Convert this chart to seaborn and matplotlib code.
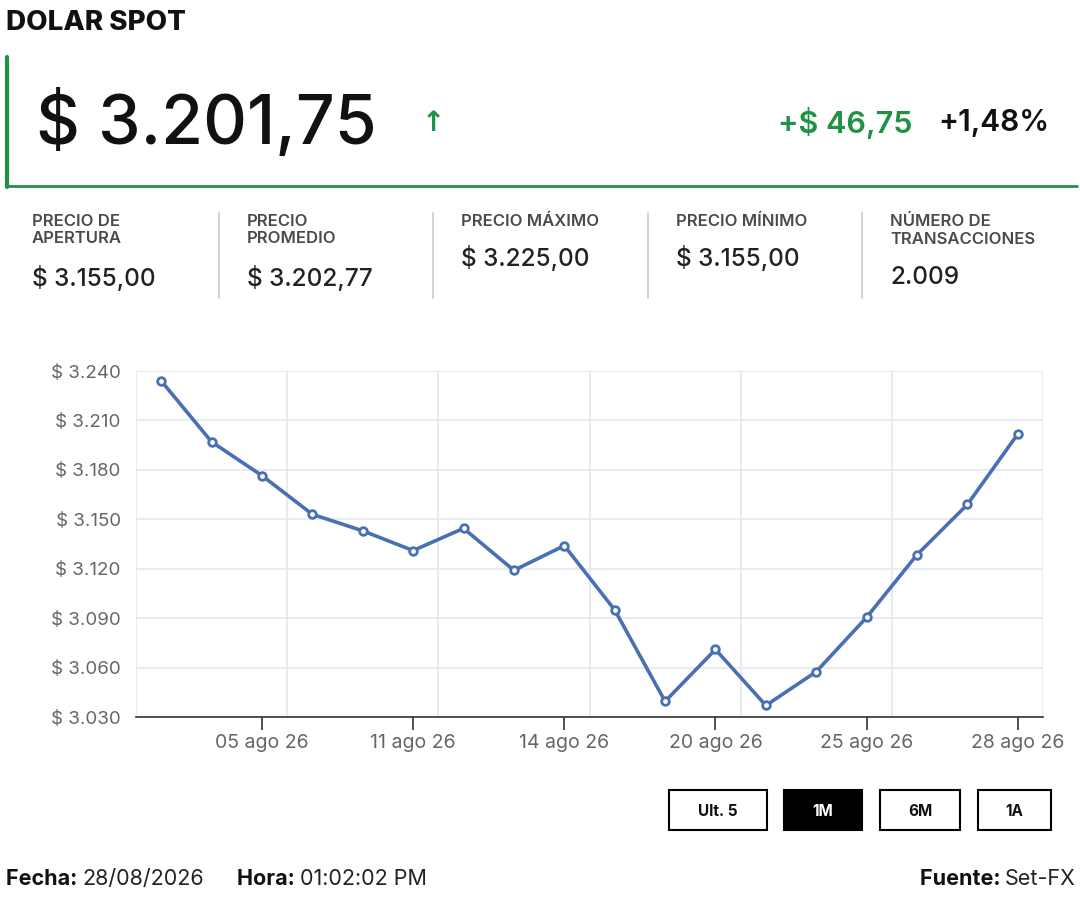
import pandas as pd
import seaborn as sns
import matplotlib.pyplot as plt
from matplotlib import font_manager
from matplotlib.ticker import FixedLocator, MultipleLocator, FuncFormatter

# Datos del grafico (1M)
fechas = ['03 ago 26', '04 ago 26', '05 ago 26', '06 ago 26', '10 ago 26', '11 ago 26',
          '12 ago 26', '13 ago 26', '14 ago 26', '18 ago 26', '19 ago 26', '20 ago 26',
          '21 ago 26', '24 ago 26', '25 ago 26', '26 ago 26', '27 ago 26', '28 ago 26']
precios = [3234, 3197, 3176.5, 3153, 3143, 3131, 3144.5, 3119, 3134, 3095, 3039.5,
           3071, 3037, 3057.5, 3090.5, 3128.5, 3159, 3201.75]
etiquetas_x = [2, 5, 8, 11, 14, 17]

# Cabecera
titulo = 'DOLAR SPOT'
precio_actual = '$ 3.201,75'
variacion = '+$ 46,75'
variacion_pct = '+1,48%'
stat_labels = ['PRECIO DE\nAPERTURA', 'PRECIO\nPROMEDIO', 'PRECIO MÁXIMO', 'PRECIO MÍNIMO',
               'NÚMERO DE\nTRANSACCIONES']
stat_values = ['$ 3.155,00', '$ 3.202,77', '$ 3.225,00', '$ 3.155,00', '2.009']
botones = ['Ult. 5', '1M', '6M', '1A']
fecha_txt = '28/08/2026'
hora_txt = '01:02:02 PM'
fuente_txt = 'Set-FX'

sns.set_theme(style='white')
instaladas = {f.name for f in font_manager.fontManager.ttflist}
main_font = 'Inter' if 'Inter' in instaladas else 'DejaVu Sans'
plt.rcParams['font.family'] = [main_font, 'DejaVu Sans']

W, H = 1080, 900
fig = plt.figure(figsize=(W / 100, H / 100), dpi=100)
fig.patch.set_facecolor('white')


def P(x, y):
    return x / W, 1 - y / H


GREEN = '#1f9245'
LINE = '#4a70b4'

# ---- cabecera ----
fig.text(*P(6, 23), titulo, fontsize=20, fontweight='heavy', color='#111111', va='center', ha='left')
fig.add_artist(plt.Line2D([7 / W, 7 / W], [1 - 57 / H, 1 - 187 / H], color=GREEN, lw=3))
fig.add_artist(plt.Line2D([7 / W, 1077 / W], [1 - 186 / H, 1 - 186 / H], color=GREEN, lw=2))
fig.text(*P(36, 123), precio_actual, fontsize=49, fontweight='medium', color='#111111',
         va='center', ha='left')
fig.text(*P(433, 123), '↑', fontsize=20, color=GREEN, va='center', ha='center',
         fontweight='bold', family=['DejaVu Sans'])
fig.text(*P(913, 123), variacion, fontsize=22, fontweight='semibold', color=GREEN, va='center', ha='right')
fig.text(*P(1049, 123), variacion_pct, fontsize=21.5, fontweight='semibold', color='#111111',
         va='center', ha='right')

col_x = [32, 247, 461, 676, 890]
for i, (lab, val) in enumerate(zip(stat_labels, stat_values)):
    fig.text(*P(col_x[i], 214), lab, fontsize=12, fontweight='semibold', color='#4a4a4a',
             va='top', ha='left', linespacing=1.2)
    vy = 278 if '\n' in lab else 258
    fig.text(*P(col_x[i], vy), val, fontsize=17.5, fontweight='medium', color='#222222',
             va='center', ha='left')
    if i > 0:
        sx = col_x[i] - 28
        fig.add_artist(plt.Line2D([sx / W, sx / W], [1 - 213 / H, 1 - 298 / H], color='#c9c9d9', lw=1.2))

# ---- grafico ----
df = pd.DataFrame({'idx': range(len(precios)), 'precio': precios})
ax = fig.add_axes([136 / W, 1 - 717 / H, (1043 - 136) / W, (717 - 371) / H])
sns.lineplot(data=df, x='idx', y='precio', ax=ax, color=LINE, lw=2.6, marker='o',
             markersize=5.5, markerfacecolor='white', markeredgecolor=LINE, markeredgewidth=2,
             zorder=3)
ax.set_xlim(-0.5, len(precios) - 0.5)
ax.set_ylim(3030, 3240)
ax.yaxis.set_major_locator(MultipleLocator(30))
ax.yaxis.set_major_formatter(FuncFormatter(lambda v, p: '$ ' + f'{v:,.0f}'.replace(',', '.')))
ax.xaxis.set_major_locator(FixedLocator(etiquetas_x))
ax.set_xticklabels([fechas[i] for i in etiquetas_x])
ax.xaxis.set_minor_locator(FixedLocator([i - 0.5 for i in range(0, len(precios) + 1, 3)]))
ax.grid(axis='y', which='major', color='#e3e8f0', lw=1.2)
ax.grid(axis='x', which='minor', color='#e3e8f0', lw=1.2)
ax.grid(axis='x', which='major', visible=False)
for s in ['top', 'right', 'left']:
    ax.spines[s].set_visible(False)
ax.spines['bottom'].set_color('#333333')
ax.spines['bottom'].set_linewidth(1.2)
ax.tick_params(axis='x', which='major', direction='out', length=9, width=1.2, color='#333333',
               labelsize=14, labelcolor='#666666', pad=3, bottom=True)
ax.tick_params(axis='x', which='minor', length=0)
ax.tick_params(axis='y', length=0, labelsize=13.5, labelcolor='#666666', pad=11)
ax.set_xlabel('')
ax.set_ylabel('')
ax.set_facecolor('white')

# ---- botones ----
bx = [(669, 767), (784, 862), (880, 960), (978, 1051)]
for (x0, x1), b in zip(bx, botones):
    activo = b == '1M'
    rect = plt.Rectangle((x0 / W, 1 - 830 / H), (x1 - x0) / W, 40 / H, transform=fig.transFigure,
                         facecolor='black' if activo else 'white', edgecolor='black', lw=1.5)
    fig.add_artist(rect)
    fig.text(*P((x0 + x1) / 2, 811), b, fontsize=11, fontweight='bold',
             color='white' if activo else '#111111', ha='center', va='center')

# ---- pie ----
fig.canvas.draw()
rend = fig.canvas.get_renderer()


def par(x, y, bold, normal, ha='left'):
    t1 = fig.text(*P(x, y), bold + ' ', fontsize=15.5, fontweight='bold', color='#111111',
                  va='center', ha='left')
    t2 = fig.text(*P(x, y), normal, fontsize=15.5, color='#222222', va='center', ha='left')
    w1 = t1.get_window_extent(rend).width
    w2 = t2.get_window_extent(rend).width
    if ha == 'right':
        x = x - w1 - w2
        t1.set_position(P(x, y))
    t2.set_position(P(x + w1, y))


par(6, 879, 'Fecha:', fecha_txt)
par(237, 879, 'Hora:', hora_txt)
par(1076, 879, 'Fuente:', fuente_txt, ha='right')

fig.savefig('out.png', dpi=100, facecolor='white')
